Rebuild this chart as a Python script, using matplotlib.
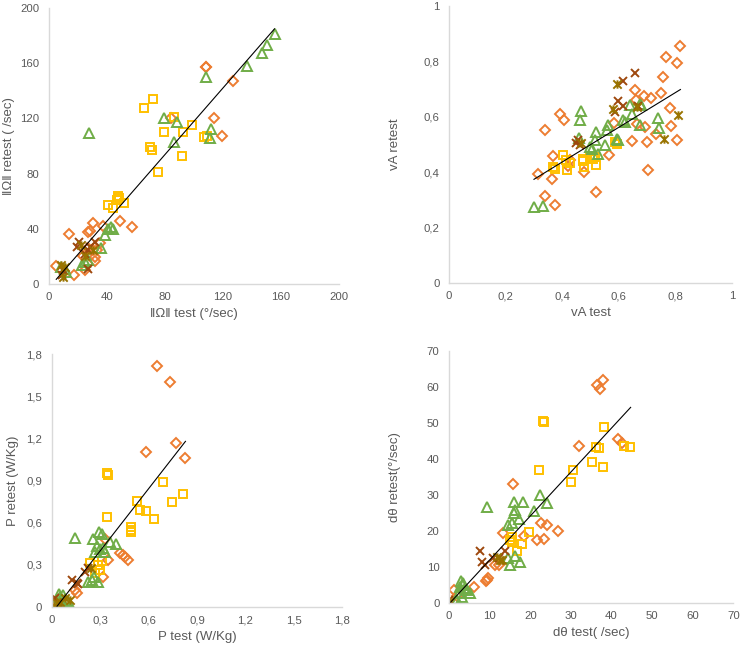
import numpy as np
import matplotlib
matplotlib.use("Agg")
import matplotlib.pyplot as plt
from matplotlib.path import Path
from matplotlib.ticker import FuncFormatter

plt.rcParams['font.family'] = ['Liberation Sans', 'DejaVu Sans']

# ---------------- Panel 1 : ||Omega|| ----------------
om_orange_x = [108, 108.5, 127, 114, 119, 84, 49, 57, 30, 13.5, 28.5, 27, 37, 4.5, 17, 24.5, 31.5, 30.5, 35, 27, 23.5, 32, 33]
om_orange_y = [157, 157.5, 147, 120, 107, 120.5, 46, 41, 44.5, 36, 38.5, 37.5, 42, 13, 6.5, 10, 17, 24.5, 29.5, 26, 20, 19.5, 24.5]
om_yellow_x = [72, 65.5, 86, 79, 98.5, 92.5, 107, 109, 69.5, 71, 91.5, 75, 47.5, 47, 52, 41, 44, 48]
om_yellow_y = [134, 127.5, 121, 110, 115, 110, 106.5, 107, 99.5, 97, 93, 81, 64, 61, 59, 57, 55, 62]
om_green_x = [156, 150.5, 147, 136.5, 108, 111.5, 111, 79.5, 88, 86, 27.5, 41, 44, 38.5, 36, 43, 22.5, 27, 25, 12, 8, 11]
om_green_y = [181, 173, 167.5, 158, 150, 112.5, 105.5, 120, 117, 103, 109, 40, 40, 35.5, 26, 41, 13.5, 17.5, 16, 9, 12.5, 11]
om_brown_x = [19, 21, 28, 27, 31.5, 25, 10, 9, 27]
om_brown_y = [27, 30.5, 27, 24.5, 30.5, 22, 10, 6.5, 11]
om_olive_x = [8, 11, 10, 25, 22, 30]
om_olive_y = [13.5, 12, 5, 20, 28, 25]
om_trend_x = [5, 155.5]
om_trend_coef = [1.205, -2.6]

# ---------------- Panel 2 : vA ----------------
va_orange_x = [0.815, 0.768, 0.805, 0.755, 0.658, 0.751, 0.69, 0.715, 0.78, 0.663, 0.692, 0.784, 0.733, 0.648, 0.701, 0.806, 0.704, 0.566, 0.521, 0.392, 0.406, 0.339, 0.366, 0.313, 0.365, 0.339, 0.374, 0.477, 0.421, 0.427, 0.582, 0.66]
va_orange_y = [0.857, 0.815, 0.794, 0.743, 0.697, 0.687, 0.674, 0.668, 0.633, 0.575, 0.564, 0.568, 0.538, 0.512, 0.509, 0.515, 0.409, 0.461, 0.329, 0.611, 0.588, 0.551, 0.457, 0.392, 0.375, 0.314, 0.282, 0.401, 0.421, 0.445, 0.577, 0.66]
va_yellow_x = [0.366, 0.374, 0.401, 0.415, 0.418, 0.427, 0.472, 0.477, 0.474, 0.498, 0.515, 0.519, 0.592, 0.588, 0.508]
va_yellow_y = [0.419, 0.412, 0.461, 0.443, 0.407, 0.432, 0.449, 0.419, 0.44, 0.455, 0.455, 0.425, 0.503, 0.51, 0.448]
va_green_x = [0.3, 0.333, 0.467, 0.464, 0.46, 0.521, 0.515, 0.557, 0.562, 0.592, 0.598, 0.551, 0.527, 0.498, 0.639, 0.645, 0.621, 0.615, 0.677, 0.676, 0.739, 0.741, 0.674, 0.505]
va_green_y = [0.275, 0.278, 0.621, 0.588, 0.522, 0.545, 0.515, 0.551, 0.569, 0.521, 0.516, 0.497, 0.467, 0.492, 0.643, 0.61, 0.582, 0.587, 0.642, 0.569, 0.597, 0.559, 0.645, 0.485]
va_brown_x = [0.659, 0.615, 0.598, 0.615, 0.586, 0.668, 0.456, 0.462, 0.45]
va_brown_y = [0.757, 0.731, 0.659, 0.641, 0.617, 0.641, 0.515, 0.497, 0.505]
va_olive_x = [0.594, 0.578, 0.665, 0.809, 0.76, 0.468]
va_olive_y = [0.719, 0.629, 0.637, 0.607, 0.519, 0.507]
va_trend_x = [0.3, 0.818]
va_trend_coef = [0.626, 0.1867]

# ---------------- Panel 3 : P ----------------
p_orange_x = [0.652, 0.735, 0.772, 0.828, 0.586, 0.327, 0.424, 0.44, 0.455, 0.47, 0.348, 0.318, 0.155, 0.14, 0.03]
p_orange_y = [1.712, 1.605, 1.167, 1.06, 1.1, 0.486, 0.384, 0.368, 0.356, 0.337, 0.337, 0.216, 0.1, 0.12, 0.03]
p_yellow_x = [0.339, 0.346, 0.687, 0.815, 0.53, 0.747, 0.546, 0.583, 0.633, 0.343, 0.488, 0.49, 0.488, 0.236, 0.288, 0.298, 0.267, 0.31]
p_yellow_y = [0.952, 0.94, 0.887, 0.802, 0.754, 0.745, 0.69, 0.683, 0.624, 0.638, 0.567, 0.548, 0.532, 0.311, 0.299, 0.263, 0.24, 0.33]
p_green_x = [0.143, 0.252, 0.29, 0.31, 0.36, 0.395, 0.28, 0.267, 0.3, 0.329, 0.318, 0.246, 0.288, 0.225, 0.26, 0.019, 0.05, 0.07, 0.04, 0.06, 0.03, 0.08, 0.1, 0.045]
p_green_y = [0.491, 0.486, 0.534, 0.52, 0.465, 0.445, 0.432, 0.393, 0.41, 0.393, 0.42, 0.192, 0.18, 0.18, 0.21, 0.038, 0.073, 0.085, 0.02, 0.05, 0.015, 0.06, 0.04, 0.09]
p_brown_x = [0.122, 0.153, 0.163, 0.225, 0.205, 0.019, 0.04]
p_brown_y = [0.192, 0.169, 0.16, 0.275, 0.251, 0.062, 0.03]
p_olive_x = [0.05, 0.081, 0.028, 0.112, 0.24, 0.015]
p_olive_y = [0.038, 0.062, 0.03, 0.05, 0.28, 0.01]
p_trend_x = [0.031, 0.828]
p_trend_coef = [1.473, -0.0407]

# ---------------- Panel 4 : dtheta ----------------
dt_orange_x = [37.8, 36.4, 37.1, 41.7, 42.6, 32.1, 15.7, 22.6, 24.1, 26.7, 21.7, 23.3, 18.4, 13.3, 9.3, 9.6, 9.0, 6.0, 1.1, 11.3, 12.2, 2.0]
dt_orange_y = [61.9, 60.6, 59.4, 45.6, 44.5, 43.6, 33.0, 22.3, 21.7, 20.0, 17.6, 17.9, 18.5, 19.4, 6.4, 6.9, 6.0, 4.5, 3.6, 10.6, 10.5, 2.0]
dt_yellow_x = [23.1, 23.3, 38.2, 36.2, 37.0, 43.1, 44.6, 22.2, 30.4, 30.0, 35.3, 37.9, 19.6, 15.5, 15.5, 18.0, 16.8, 15.0]
dt_yellow_y = [50.6, 50.2, 48.8, 43.4, 43.1, 43.6, 43.2, 36.9, 36.9, 33.7, 39.2, 37.7, 19.7, 18.3, 16.8, 16.5, 14.3, 17.5]
dt_green_x = [9.4, 16.0, 18.2, 22.3, 24.1, 21.0, 15.9, 16.2, 17.1, 15.5, 14.4, 14.6, 15.0, 17.5, 16.1, 3.0, 3.5, 2.7, 3.9, 5.2, 2.3, 3.1, 1.9, 4.5, 3.3]
dt_green_y = [26.6, 28.1, 28.1, 30.0, 27.7, 25.4, 24.9, 25.9, 23.2, 22.1, 21.7, 12.4, 10.6, 11.5, 13.0, 6.0, 5.5, 4.5, 4.1, 2.7, 2.7, 1.75, 0.8, 3.5, 5.0]
dt_brown_x = [7.6, 13.8, 8.1, 8.9, 10.9, 12.2, 0.0]
dt_brown_y = [14.3, 14.3, 11.5, 10.6, 12.4, 12.4, 0.8]
dt_olive_x = [12.6, 11.8, 0.0, 0.3, 13.0]
dt_olive_y = [11.9, 12.8, 0.4, 0.2, 12.0]
dt_trend_x = [0.33, 44.7]
dt_trend_coef = [1.2197, -0.22]

# ---------------- styles ----------------
C_ORANGE = '#ED7D31'
C_YELLOW = '#FFC000'
C_GREEN = '#70AD47'
C_BROWN = '#9E480E'
C_OLIVE = '#997300'
TXT = '#595959'
SPINE = '#D9D9D9'

star = Path([(-0.5, -0.5), (0.5, 0.5), (-0.5, 0.5), (0.5, -0.5), (0, -0.5), (0, 0.5)],
            [Path.MOVETO, Path.LINETO] * 3)

fig = plt.figure(figsize=(7.4, 6.5), dpi=100)


def comma(v, pos):
    s = ('%g' % round(v, 6))
    return s.replace('.', ',')


def panel(rect, series, trend_x, trend_coef, lim, ticks, xlabel, ylabel, ylab_x):
    ax = fig.add_axes(rect)
    for (xs, ys, color, marker, ms) in series:
        ax.plot(xs, ys, linestyle='none', marker=marker, markersize=ms,
                markerfacecolor='none', markeredgecolor=color, markeredgewidth=1.4)
    tx = np.array(trend_x)
    ax.plot(tx, trend_coef[0] * tx + trend_coef[1], color='black', lw=0.8)
    ax.set_xlim(lim)
    ax.set_ylim(lim)
    ax.set_xticks(ticks)
    ax.set_yticks(ticks)
    ax.xaxis.set_major_formatter(FuncFormatter(comma))
    ax.yaxis.set_major_formatter(FuncFormatter(comma))
    for s in ['top', 'right']:
        ax.spines[s].set_visible(False)
    for s in ['left', 'bottom']:
        ax.spines[s].set_color(SPINE)
        ax.spines[s].set_linewidth(1.0)
    ax.tick_params(axis='both', length=0, labelsize=8.2, labelcolor=TXT)
    ax.tick_params(axis='x', pad=6)
    ax.tick_params(axis='y', pad=7)
    ax.set_xlabel(xlabel, fontsize=9.5, color=TXT, labelpad=4)
    ax.set_ylabel(ylabel, fontsize=9.5, color=TXT)
    ax.yaxis.set_label_coords(ylab_x, 0.5)
    return ax


def mk(prefix):
    g = globals()
    return [
        (g[prefix + '_orange_x'], g[prefix + '_orange_y'], C_ORANGE, 'D', 4.8),
        (g[prefix + '_yellow_x'], g[prefix + '_yellow_y'], C_YELLOW, 's', 6.2),
        (g[prefix + '_green_x'], g[prefix + '_green_y'], C_GREEN, '^', 6.8),
        (g[prefix + '_brown_x'], g[prefix + '_brown_y'], C_BROWN, 'x', 6.0),
        (g[prefix + '_olive_x'], g[prefix + '_olive_y'], C_OLIVE, star, 6.0),
    ]


panel([0.0662, 0.563, 0.392, 0.425], mk('om'), om_trend_x, om_trend_coef,
      (0, 200), [0, 40, 80, 120, 160, 200],
      '‖Ω‖ test (°/sec)', '‖Ω‖ retest ( /sec)', -0.118)
panel([0.607, 0.5646, 0.382, 0.426], mk('va'), va_trend_x, va_trend_coef,
      (0, 1), [0, 0.2, 0.4, 0.6, 0.8, 1.0],
      'vA test', 'vA retest', -0.17)
panel([0.0703, 0.0662, 0.392, 0.389], mk('p'), p_trend_x, p_trend_coef,
      (0, 1.8), [0, 0.3, 0.6, 0.9, 1.2, 1.5, 1.8],
      'P test (W/Kg)', 'P retest (W/Kg)', -0.114)
panel([0.607, 0.0723, 0.384, 0.388], mk('dt'), dt_trend_x, dt_trend_coef,
      (0, 70), [0, 10, 20, 30, 40, 50, 60, 70],
      'dθ test( /sec)', 'dθ retest(°/sec)', -0.169)

fig.savefig('out.png', dpi=100)
